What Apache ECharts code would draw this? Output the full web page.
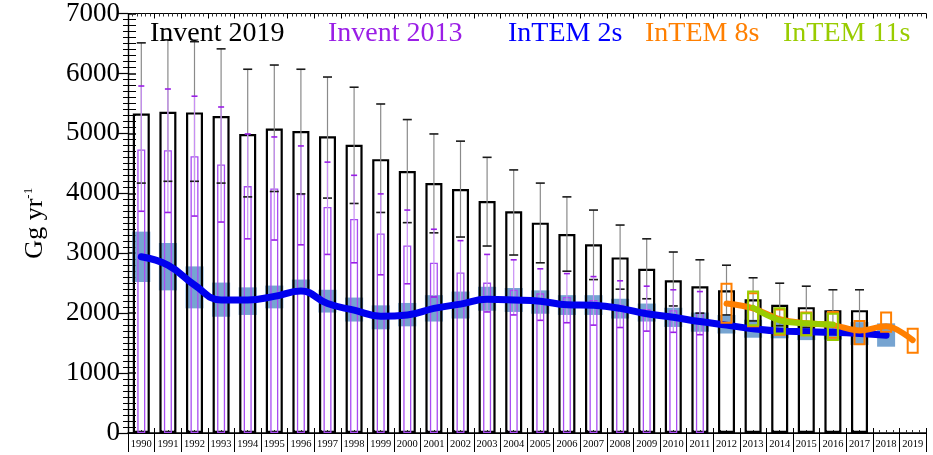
<!DOCTYPE html>
<html>
<head>
<meta charset="utf-8">
<script src="https://cdn.jsdelivr.net/npm/echarts@6.0.0/dist/echarts.min.js"></script>
<style>
  html, body { margin: 0; padding: 0; background: #fff; }
  #chart { width: 933px; height: 455px; }
</style>
</head>
<body>
<div id="chart"></div>
<script>
// ---- data (Gg/yr) ----
const years = ['1990','1991','1992','1993','1994','1995','1996','1997','1998','1999',
               '2000','2001','2002','2003','2004','2005','2006','2007','2008','2009',
               '2010','2011','2012','2013','2014','2015','2016','2017','2018','2019'];
const yTicks = [0, 1000, 2000, 3000, 4000, 5000, 6000, 7000];

// Invent 2019 (1990-2017)
const inv19   = [5330, 5360, 5350, 5290, 4990, 5080, 5040, 4950, 4810, 4570, 4370, 4170, 4070, 3870,
                 3700, 3510, 3320, 3150, 2930, 2740, 2550, 2450, 2380, 2230, 2140, 2100, 2050, 2050];
const inv19Hi = [6510, 6560, 6530, 6410, 6070, 6140, 6070, 5940, 5770, 5490, 5230, 4990, 4870, 4600,
                 4390, 4170, 3940, 3720, 3470, 3240, 3020, 2890, 2800, 2590, 2500, 2450, 2390, 2390];
const inv19Lo = [4170, 4200, 4200, 4170, 3940, 4030, 3990, 3920, 3830, 3680, 3510, 3340, 3270, 3120,
                 2970, 2840, 2700, 2560, 2400, 2240, 2120, 2000, 1970, 1870, 1790, 1760, 1710, 1710];

// Invent 2013 (1990-2011)
const inv13   = [4730, 4720, 4620, 4480, 4120, 4080, 3990, 3770, 3570, 3330, 3130, 2840, 2680, 2510,
                 2390, 2330, 2270, 2220, 2140, 2070, 2050, 2010];
const inv13Hi = [5790, 5740, 5620, 5440, 4990, 4940, 4790, 4520, 4300, 3990, 3720, 3400, 3210, 2980,
                 2890, 2740, 2660, 2610, 2540, 2450, 2390, 2360];
const inv13Lo = [3700, 3680, 3620, 3520, 3240, 3220, 3140, 2980, 2840, 2640, 2490, 2270, 2150, 2020,
                 1970, 1880, 1840, 1800, 1760, 1700, 1680, 1640];

// InTEM 2s (1990-2018)
const intem2s   = [2940, 2800, 2470, 2220, 2220, 2280, 2370, 2160, 2050, 1950, 1970, 2080, 2150, 2230,
                   2220, 2200, 2140, 2130, 2080, 1990, 1930, 1860, 1800, 1740, 1700, 1690, 1680, 1660, 1630];
const intem2sHi = [3360, 3170, 2780, 2510, 2430, 2460, 2560, 2390, 2260, 2130, 2170, 2300, 2360, 2440,
                   2420, 2380, 2300, 2300, 2240, 2160, 2090, 2010, 1970, 1890, 1860, 1830, 1820, 1850, 1830];
const intem2sLo = [2520, 2380, 2080, 1940, 1970, 2080, 2330, 2010, 1860, 1730, 1780, 1860, 1910, 2040,
                   2020, 1990, 1970, 1970, 1910, 1860, 1770, 1690, 1660, 1590, 1580, 1550, 1560, 1470, 1440];

// InTEM 8s (2012-2019)
const intem8sStart = 22;
const intem8s   = [2160, 2080, 1900, 1830, 1800, 1710, 1780, 1550];
const intem8sHi = [2490, 2330, 2060, 2010, 2020, 1870, 2010, 1740];
const intem8sLo = [1840, 1780, 1640, 1630, 1590, 1480, 1690, 1340];

// InTEM 11s (2013-2016)
const intem11sStart = 23;
const intem11s   = [2090, 1880, 1830, 1810];
const intem11sHi = [2360, 2080, 2000, 1990];
const intem11sLo = [1800, 1660, 1630, 1550];

// ---- helpers ----
const FONT = 'Liberation Serif';
const PURPLE = '#9a1ee6';
const BLUE = '#0000ee';
const ORANGE = '#ff7f00';
const GREEN = '#99cc00';

function padTo(arr, start) {
  const out = years.map(() => null);
  arr.forEach((v, i) => { out[start + i] = v; });
  return out;
}
function ranges(lo, hi, start) {
  return lo.map((v, i) => [start + i, v, hi[i]]);
}

function boxItem(width, style) {
  return function (params, api) {
    const x = api.value(0);
    const top = api.coord([x, api.value(2)]);
    const bot = api.coord([x, api.value(1)]);
    return {
      type: 'rect',
      shape: { x: top[0] - width / 2, y: top[1], width: width, height: bot[1] - top[1] },
      style: style
    };
  };
}

function errItem(cap, lineColor, capColor) {
  return function (params, api) {
    const x = api.value(0);
    const hi = api.coord([x, api.value(2)]);
    const lo = api.coord([x, api.value(1)]);
    return {
      type: 'group',
      children: [
        { type: 'line', shape: { x1: hi[0], y1: hi[1], x2: lo[0], y2: lo[1] },
          style: { stroke: lineColor, lineWidth: 1.2 } },
        { type: 'line', shape: { x1: hi[0] - cap / 2, y1: hi[1], x2: hi[0] + cap / 2, y2: hi[1] },
          style: { stroke: capColor, lineWidth: 1.6 } },
        { type: 'line', shape: { x1: lo[0] - cap / 2, y1: lo[1], x2: lo[0] + cap / 2, y2: lo[1] },
          style: { stroke: capColor, lineWidth: 1.6 } }
      ]
    };
  };
}

const chart = echarts.init(document.getElementById('chart'), null, { renderer: 'canvas' });

const legendItems = [
  { text: 'Invent 2019', x: 150, color: '#000' },
  { text: 'Invent 2013', x: 328, color: PURPLE },
  { text: 'InTEM 2s', x: 508, color: '#0000ff' },
  { text: 'InTEM 8s', x: 645, color: ORANGE },
  { text: 'InTEM 11s', x: 783, color: GREEN }
];

chart.setOption({
  animation: false,
  backgroundColor: '#fff',
  textStyle: { fontFamily: FONT },
  grid: { left: 128, right: 7, top: 13, bottom: 22, containLabel: false },
  graphic: legendItems.map(l => ({
    type: 'text', left: l.x, top: 20, z: 100,
    style: { text: l.text, fill: l.color, font: '28px "' + FONT + '"' }
  })),
  xAxis: [
    { // year cells
      type: 'category', data: years, position: 'bottom', boundaryGap: true,
      axisLine: { lineStyle: { color: '#000', width: 1.2 } },
      axisTick: { show: true, alignWithLabel: false, inside: false, length: 19, lineStyle: { color: '#000', width: 1 } },
      axisLabel: { color: '#000', fontSize: 10.5, fontFamily: FONT, margin: 6, interval: 0 },
      splitLine: { show: false }
    },
    { // purple bars / bottom frame line
      type: 'category', data: years, position: 'bottom', offset: 19, boundaryGap: true,
      axisLine: { lineStyle: { color: '#000', width: 1.5 } },
      axisTick: { show: false }, axisLabel: { show: false }, splitLine: { show: false }
    },
    { // top frame
      type: 'value', position: 'top', min: 0, max: 30, interval: 1,
      axisLine: { lineStyle: { color: '#000', width: 1 } },
      axisTick: { inside: true, length: 5, lineStyle: { color: '#000' } },
      minorTick: { show: true, splitNumber: 6, length: 3, lineStyle: { color: '#333' } },
      axisLabel: { show: false }, splitLine: { show: false }
    },
    { // bottom inner ticks
      type: 'value', position: 'bottom', min: 0, max: 30, interval: 1,
      axisLine: { show: false },
      axisTick: { inside: true, length: 5, lineStyle: { color: '#000' } },
      minorTick: { show: true, splitNumber: 4, length: 3, lineStyle: { color: '#333' } },
      axisLabel: { show: false }, splitLine: { show: false }
    }
  ],
  yAxis: [
    {
      type: 'value', position: 'left', min: yTicks[0], max: yTicks[yTicks.length - 1], interval: 1000,
      name: '{a|Gg yr}{s|-1}', nameLocation: 'middle', nameGap: 80, nameRotate: 90,
      nameTextStyle: {
        rich: {
          a: { fontSize: 26, fontFamily: FONT, color: '#000' },
          s: { fontSize: 13, fontFamily: FONT, color: '#000', verticalAlign: 'top', padding: [0, 0, 12, 0] }
        }
      },
      axisLine: { show: true, lineStyle: { color: '#000', width: 1.2 } },
      axisTick: { show: true, inside: true, length: 8, lineStyle: { color: '#000', width: 1.5 } },
      minorTick: { show: true, splitNumber: 10, length: 8, lineStyle: { color: '#000', width: 1 } },
      axisLabel: {
        color: '#000', fontSize: 27, fontFamily: FONT, margin: 8,
        formatter: v => String(v)
      },
      splitLine: { show: false }
    },
    {
      type: 'value', position: 'right', min: yTicks[0], max: yTicks[yTicks.length - 1], interval: 1000,
      axisLine: { show: true, lineStyle: { color: '#000', width: 1.2 } },
      axisTick: { show: true, inside: true, length: 10, lineStyle: { color: '#000', width: 1.2 } },
      minorTick: { show: true, splitNumber: 10, length: 5, lineStyle: { color: '#000', width: 1 } },
      axisLabel: { show: false }, splitLine: { show: false }
    }
  ],
  series: [
    { // InTEM 2s uncertainty boxes
      name: 'InTEM 2s range', type: 'custom', z: 1,
      renderItem: boxItem(18, { fill: 'rgba(80,138,196,0.78)' }),
      encode: { x: 0, y: [1, 2] },
      data: ranges(intem2sLo, intem2sHi, 0)
    },
    {
      name: 'Invent 2019', type: 'bar', xAxisIndex: 0, yAxisIndex: 0, z: 2,
      barWidth: 17, data: padTo(inv19, 0),
      itemStyle: { color: 'rgba(255,255,255,0)', borderColor: '#000', borderWidth: 2.2 }
    },
    {
      name: 'Invent 2013', type: 'bar', xAxisIndex: 1, yAxisIndex: 0, z: 2,
      barWidth: 8, data: padTo(inv13, 0),
      itemStyle: { color: 'rgba(255,255,255,0)', borderColor: '#a84cf2', borderWidth: 1.3 }
    },
    {
      name: 'Invent 2019 err', type: 'custom', z: 3,
      renderItem: errItem(9, '#8a8a8a', '#1a1a1a'),
      encode: { x: 0, y: [1, 2] },
      data: ranges(inv19Lo, inv19Hi, 0)
    },
    {
      name: 'Invent 2013 err', type: 'custom', z: 3,
      renderItem: errItem(6, '#c88ff4', PURPLE),
      encode: { x: 0, y: [1, 2] },
      data: ranges(inv13Lo, inv13Hi, 0)
    },
    {
      name: 'InTEM 2s', type: 'line', z: 4, data: padTo(intem2s, 0),
      smooth: 0.45, showSymbol: false, symbol: 'none',
      lineStyle: { color: BLUE, width: 7, cap: 'round', join: 'round' }
    },
    {
      name: 'InTEM 8s', type: 'line', z: 5, data: padTo(intem8s, intem8sStart),
      smooth: 0.35, showSymbol: false, symbol: 'none',
      lineStyle: { color: ORANGE, width: 6, cap: 'round', join: 'round' }
    },
    {
      name: 'InTEM 8s range', type: 'custom', z: 6,
      renderItem: boxItem(10, { fill: 'none', stroke: ORANGE, lineWidth: 2 }),
      encode: { x: 0, y: [1, 2] },
      data: ranges(intem8sLo, intem8sHi, intem8sStart)
    },
    {
      name: 'InTEM 11s', type: 'line', z: 7, data: padTo(intem11s, intem11sStart),
      smooth: 0.35, showSymbol: false, symbol: 'none',
      lineStyle: { color: GREEN, width: 6, cap: 'round', join: 'round' }
    },
    {
      name: 'InTEM 11s range', type: 'custom', z: 8,
      renderItem: boxItem(10, { fill: 'none', stroke: GREEN, lineWidth: 2 }),
      encode: { x: 0, y: [1, 2] },
      data: ranges(intem11sLo, intem11sHi, intem11sStart)
    }
  ]
});
</script>
</body>
</html>
